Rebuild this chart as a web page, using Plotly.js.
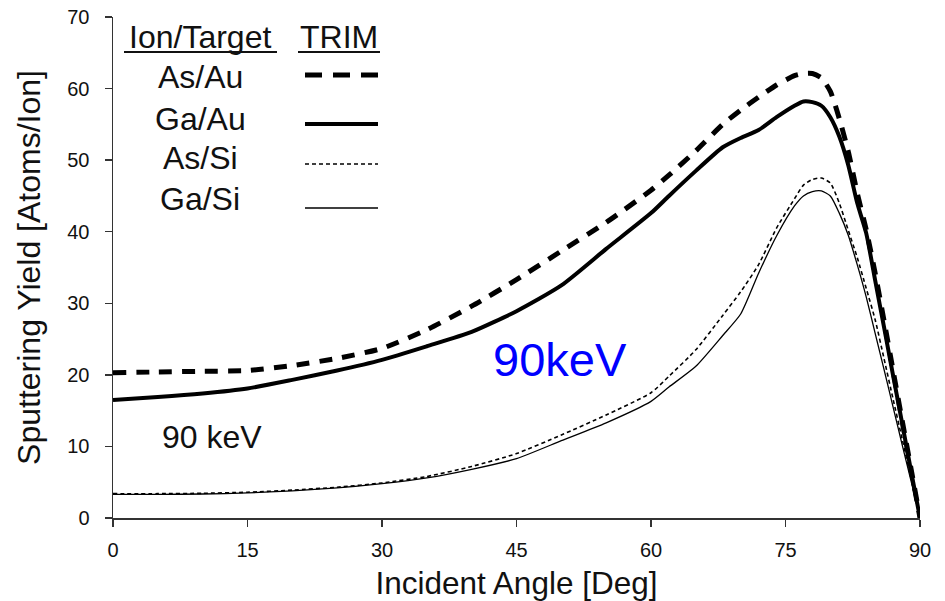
<!DOCTYPE html>
<html>
<head>
<meta charset="utf-8">
<script src="https://cdn.plot.ly/plotly-3.0.1.min.js"></script>
<style>html,body{margin:0;padding:0;background:#fff;}#chart{width:945px;height:601px;}</style>
</head>
<body>
<div id="chart"></div>
<script>
// Incident angle [deg]
const angles = [0,5,10,15,20,25,30,35,40,45,50,55,60,62,65,68,70,72,74,76,77,78,79,80,81,82,83,84,85,86,87,88,89,90];
// Sputtering yield [atoms/ion]
const asAu = [20.3,20.4,20.5,20.6,21.3,22.3,23.7,26.3,29.6,33.3,37.3,41.3,45.8,47.9,51.3,55.0,57.0,58.8,60.5,61.8,62.1,62.1,61.5,59.6,55.8,51.2,45.4,40.3,34.2,27.5,20.6,13.7,6.9,0];
const gaAu = [16.5,16.9,17.4,18.1,19.3,20.6,22.1,24.0,26.0,28.9,32.5,37.6,42.6,45.0,48.5,51.8,53.1,54.2,56.0,57.6,58.2,58.1,57.6,56.0,53.3,49.3,44.0,39.8,33.2,26.6,19.9,13.3,6.6,0];
const asSi = [3.4,3.4,3.45,3.6,3.9,4.3,4.9,5.8,7.2,9.0,11.6,14.4,17.5,19.8,23.5,28.3,31.6,35.4,40.5,44.6,46.5,47.3,47.5,46.8,44.0,40.2,36.4,32.1,27.7,22.2,16.6,11.1,5.5,0];
const gaSi = [3.3,3.3,3.35,3.5,3.8,4.2,4.8,5.6,6.8,8.3,10.8,13.3,16.3,18.3,21.2,25.5,28.5,34.2,39.4,43.6,45.0,45.6,45.7,45.0,42.6,39.5,35.4,30.9,25.8,20.7,15.5,10.3,5.2,0];

const seriesNames = ['As/Au','Ga/Au','As/Si','Ga/Si'];
const xTicks = [0,15,30,45,60,75,90];
const yTicks = [0,10,20,30,40,50,60,70];

const FONT = '"Liberation Sans", Arial, Helvetica, sans-serif';
const styles = [
  {width:5, dash:'13px,10px'},
  {width:4, dash:'solid'},
  {width:1.6, dash:'4px,3px'},
  {width:1.3, dash:'solid'}
];
const ys = [asAu, gaAu, asSi, gaSi];

const traces = ys.map((y,i)=>({
  x: angles, y: y, type:'scatter', mode:'lines', name: seriesNames[i],
  line:{color:'#000', width:styles[i].width, dash:styles[i].dash, shape:'spline', smoothing:0.6},
  showlegend:false, hoverinfo:'skip'
}));

// pixel -> paper helpers for the hand-drawn legend box
const L=113, R=25, T=17, B=83, W=945-L-R, H=601-T-B;
const PX = v => (v-L)/W;
const PY = v => (601-B-v)/H;

const shapes = [];
const annotations = [];
annotations.push({xref:'paper',yref:'paper',x:PX(200),y:PY(37),text:'Ion/Target',showarrow:false,xanchor:'center',yanchor:'middle',font:{family:FONT,size:32,color:'#111'}});
annotations.push({xref:'paper',yref:'paper',x:PX(339),y:PY(37),text:'TRIM',showarrow:false,xanchor:'center',yanchor:'middle',font:{family:FONT,size:32,color:'#111'}});
shapes.push({type:'line',xref:'paper',yref:'paper',x0:PX(124),x1:PX(277),y0:PY(52),y1:PY(52),line:{color:'#111',width:2.2}});
shapes.push({type:'line',xref:'paper',yref:'paper',x0:PX(298),x1:PX(380),y0:PY(52),y1:PY(52),line:{color:'#111',width:2.2}});
const textY = [77,118.5,157.5,199];
const lineY = [75,124,164,208];
seriesNames.forEach((n,i)=>{
  annotations.push({xref:'paper',yref:'paper',x:PX(200),y:PY(textY[i]),text:n,showarrow:false,xanchor:'center',yanchor:'middle',font:{family:FONT,size:32,color:'#111'}});
  shapes.push({type:'line',xref:'paper',yref:'paper',x0:PX(305),x1:PX(378),y0:PY(lineY[i]),y1:PY(lineY[i]),line:{color:'#000',width:styles[i].width,dash:i===0?'17px,11px':styles[i].dash}});
});
annotations.push({xref:'paper',yref:'paper',x:PX(212),y:PY(437),text:'90 keV',showarrow:false,xanchor:'center',yanchor:'middle',font:{family:FONT,size:32,color:'#111'}});
annotations.push({xref:'paper',yref:'paper',x:PX(560),y:PY(359),text:'90keV',showarrow:false,xanchor:'center',yanchor:'middle',font:{family:FONT,size:47,color:'#0000ff'}});

const layout = {
  width:945, height:601,
  margin:{l:L,r:R,t:T,b:B},
  paper_bgcolor:'#fff', plot_bgcolor:'#fff',
  showlegend:false,
  font:{family:FONT,color:'#111'},
  xaxis:{
    range:[0,90], tickvals:xTicks, ticktext:xTicks.map(String),
    showline:true, linecolor:'#333', linewidth:1.5, showgrid:false, zeroline:false,
    ticks:'outside', ticklen:7, tickwidth:1.5, tickcolor:'#333', ticklabelstandoff:6,
    tickfont:{family:FONT,size:20,color:'#111'},
    title:{text:'Incident Angle [Deg]', font:{family:FONT,size:31.5,color:'#111'}, standoff:12}
  },
  yaxis:{
    range:[0,70], tickvals:yTicks, ticktext:yTicks.map(String),
    showline:true, linecolor:'#333', linewidth:1.5, showgrid:false, zeroline:false,
    ticks:'outside', ticklen:7, tickwidth:1.5, tickcolor:'#333', ticklabelstandoff:11,
    tickfont:{family:FONT,size:20,color:'#111'},
    title:{text:'Sputtering Yield [Atoms/Ion]', font:{family:FONT,size:32,color:'#111'}, standoff:17}
  },
  shapes: shapes,
  annotations: annotations
};

Plotly.newPlot('chart', traces, layout, {displayModeBar:false, staticPlot:true});
</script>
</body>
</html>
